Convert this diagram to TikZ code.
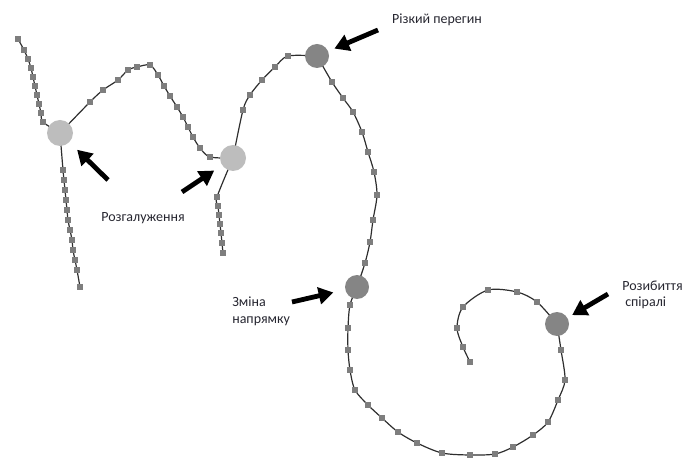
\documentclass[tikz,border=0pt]{standalone}
\usepackage{fontspec}
\setmainfont{Carlito}
\usetikzlibrary{arrows.meta}
\definecolor{markgray}{HTML}{7E7E7E}
\definecolor{lightnode}{HTML}{BDBDBD}
\definecolor{darknode}{HTML}{858585}
\definecolor{linegray}{HTML}{2E2E2E}
\definecolor{txt}{HTML}{262630}
\tikzset{
  curve/.style={draw=linegray, line width=0.9pt},
  sqmark/.style={fill=markgray},
  litenode/.style={circle, fill=lightnode, draw=none, minimum size=19.5pt, inner sep=0pt},
  darkbig/.style={circle, fill=darknode, draw=none, minimum size=18pt, inner sep=0pt},
  pointer/.style={line width=3.6pt, black, -{Triangle[length=11pt,width=12.5pt]}},
  lbl/.style={font=\fontsize{10.5pt}{12pt}\selectfont, text=txt, inner sep=0pt}
}
\newcommand{\sqdots}[1]{\foreach \px/\py in {#1} {\fill[sqmark] (\px-3.4,\py-3.4) rectangle (\px+3.4,\py+3.4);}}
\begin{document}
\begin{tikzpicture}[x=0.75pt,y=-0.75pt]
\useasboundingbox (0,0) rectangle (684,459);
% junction points
\coordinate (p1) at (60,133);
\coordinate (p2) at (233,158);
\coordinate (p3) at (317,56);
\coordinate (p4) at (357,287);
\coordinate (p5) at (557,324);
% left strand
\draw[curve] plot[smooth] coordinates {(18,39) (24,50) (28,59) (31,68) (33,77) (35,86) (37,95) (39,104) (41,113) (43,122) (p1)};
\sqdots{18/39, 24/50, 28/59, 31/68, 33/77, 35/86, 37/95, 39/104, 41/113, 43/122}
\draw[curve] plot[smooth] coordinates {(p1) (63,170) (64,180) (65,190) (66,200) (67,210) (68,220) (70,230) (72,240) (73,250) (75,260) (77,270) (80,287)};
\sqdots{63/170, 64/180, 65/190, 66/200, 67/210, 68/220, 70/230, 72/240, 73/250, 75/260, 77/270, 80/287}
% top arc between branching nodes
\draw[curve] plot[smooth] coordinates {(p1) (90,102) (103,90) (118,80) (128,70) (137,67) (150,65) (158,75) (164,86) (170,96) (177,107) (183,117) (188,127) (193,137) (200,148) (210,157) (p2)};
\sqdots{90/102, 103/90, 118/80, 128/70, 137/67, 150/65, 158/75, 164/86, 170/96, 177/107, 183/117, 188/127, 193/137, 200/148, 210/157}
% short lower branch
\draw[curve] plot[smooth] coordinates {(p2) (217,197) (218,206) (219,215) (220,224) (221,233) (222,243) (223,253)};
\sqdots{217/197, 218/206, 219/215, 220/224, 221/233, 222/243, 223/253}
% up to sharp bend
\draw[curve] plot[smooth] coordinates {(p2) (243,110) (250,95) (262,80) (275,67) (288,56) (p3)};
\sqdots{243/110, 250/95, 262/80, 275/67, 288/56}
% big arc down
\draw[curve] plot[smooth] coordinates {(p3) (332,82) (343,98) (353,112) (362,132) (368,152) (374,172) (377,195) (373,220) (370,242) (365,263) (p4)};
\sqdots{332/82, 343/98, 353/112, 362/132, 368/152, 374/172, 377/195, 373/220, 370/242, 365/263}
% bottom spiral
\draw[curve] plot[smooth] coordinates {(p4) (350,305) (348,328) (348,350) (350,370) (355,390) (368,405) (382,418) (398,432) (417,443) (442,453) (470,455) (495,454) (513,447) (533,435) (548,422) (558,400) (565,380) (561,350) (p5)};
\sqdots{350/305, 348/328, 348/350, 350/370, 355/390, 368/405, 382/418, 398/432, 417/443, 442/453, 470/455, 495/454, 513/447, 533/435, 548/422, 558/400, 565/380, 561/350}
\draw[curve] plot[smooth] coordinates {(p5) (537,302) (517,292) (488,290) (463,307) (457,328) (463,347) (470,362)};
\sqdots{537/302, 517/292, 488/290, 463/307, 457/328, 463/347, 470/362}
% big nodes
\node[litenode] (n1) at (p1) {};
\node[litenode] (n2) at (p2) {};
\node[darkbig] (n3) at (p3) {};
\node[darkbig] (n4) at (p4) {};
\node[darkbig] (n5) at (p5) {};
% arrows
\coordinate (t1) at (108,180);
\coordinate (t2) at (182,192);
\coordinate (t3) at (378,30);
\coordinate (t4) at (292,302);
\coordinate (t5) at (608,294);
\draw[pointer, shorten >=8pt] (t1) -- (n1);
\draw[pointer, shorten >=7pt] (t2) -- (n2);
\draw[pointer, shorten >=5pt] (t3) -- (n3);
\draw[pointer, shorten >=9pt] (t4) -- (n4);
\draw[pointer, shorten >=4pt] (t5) -- (n5);
% labels
\node[lbl] (l3) at (437,20) {Різкий перегин};
\node[lbl] (l1) at (143,218) {Розгалуження};
\node[lbl, anchor=west] (l4a) at (232,302) {Зміна};
\node[lbl, anchor=west] (l4b) at (232,321) {напрямку};
\node[lbl, anchor=west] (l5a) at (622,286) {Розибиття};
\node[lbl, anchor=west] (l5b) at (625,303) {спіралі};
\end{tikzpicture}
\end{document}
